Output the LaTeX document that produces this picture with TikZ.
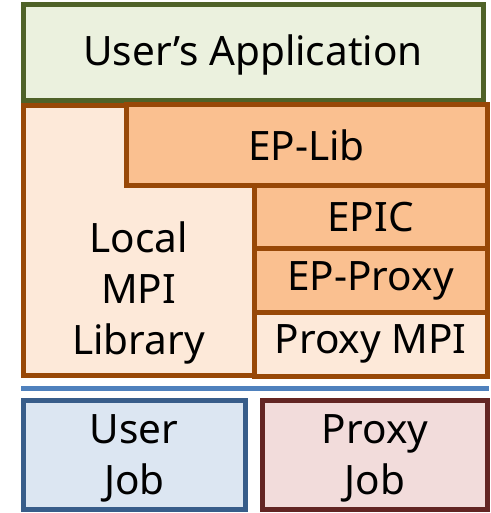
\documentclass[tikz,border=0pt]{standalone}
\usepackage{fontspec}
\setmainfont{Noto Sans}
\definecolor{appfill}{HTML}{EBF1DE}
\definecolor{appline}{HTML}{4F6228}
\definecolor{libline}{HTML}{984807}
\definecolor{peach}{HTML}{FDE9D9}
\definecolor{orangefill}{HTML}{FAC090}
\definecolor{jobfill}{HTML}{DCE6F2}
\definecolor{jobline}{HTML}{385D8A}
\definecolor{sepline}{HTML}{4F81BD}
\definecolor{pjfill}{HTML}{F2DCDB}
\definecolor{pjline}{HTML}{632523}
\begin{document}
\begin{tikzpicture}[x=1pt,y=-1pt,
  bigtext/.style={font=\fontsize{40.5}{51}\selectfont, align=center, inner sep=0pt},
  layer/.style={draw, line width=5pt, rectangle, inner sep=0pt, bigtext},
  libbox/.style={layer, draw=libline, fill=orangefill}]
\useasboundingbox (0,0) rectangle (490,513);
% application layer
\node[layer, draw=appline, fill=appfill, minimum width=460pt, minimum height=96pt]
  (app) at (253,53) {};
\node[bigtext] (apptext) at ([yshift=-2pt]app.center) {User’s Application};
% local MPI library body
\node[layer, draw=libline, fill=peach, minimum width=464pt, minimum height=269pt]
  (lib) at (255,240.5) {};
\node[bigtext] (local) at (138.5,293) {Local\\MPI\\Library};
% endpoint stack
\node[libbox, minimum width=361pt, minimum height=80pt] (eplib) at (306.5,145) {EP-Lib};
\node[libbox, minimum width=233pt, minimum height=63.5pt] (epic) at (370.5,216.75) {EPIC};
\node[libbox, minimum width=233pt, minimum height=64pt] (epproxy) at (370.5,280.5) {EP-Proxy};
\node[layer, draw=libline, fill=peach, minimum width=233pt, minimum height=63.5pt]
  (pmpi) at (370.5,344.25) {Proxy MPI};
% separator
\coordinate (sepl) at (21,388.5);
\coordinate (sepr) at (489,388.5);
\draw[sepline, line width=5pt] (sepl) -- (sepr);
% jobs
\node[layer, draw=jobline, fill=jobfill, minimum width=221.5pt, minimum height=109pt]
  (ujob) at (134.25,454.5) {};
\node[bigtext] (ujobtext) at ([yshift=-4pt]ujob.center) {User\\Job};
\node[layer, draw=pjline, fill=pjfill, minimum width=225pt, minimum height=109pt]
  (pjob) at (375,454.5) {};
\node[bigtext] (pjobtext) at ([yshift=-4pt]pjob.center) {Proxy\\Job};
\end{tikzpicture}
\end{document}
